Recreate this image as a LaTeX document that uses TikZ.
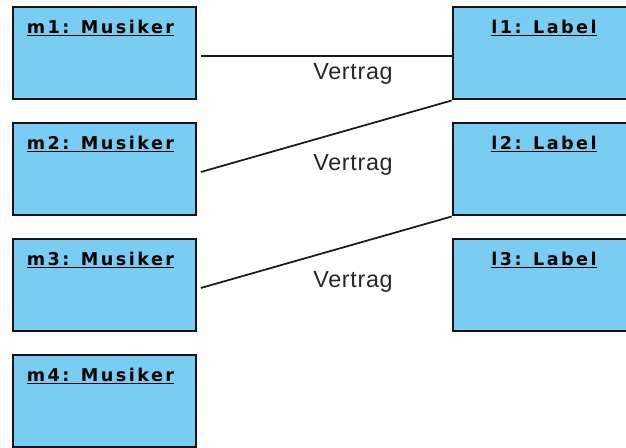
\documentclass[tikz,border=0pt]{standalone}
\usepackage{fontspec}
\setmainfont{Liberation Sans}
\newfontfamily\titlefont[LetterSpace=14]{DejaVu Sans Bold}
\newfontfamily\namefont[LetterSpace=3]{Liberation Sans}
\usetikzlibrary{positioning}

\definecolor{objblue}{RGB}{121,205,243}
\definecolor{objline}{RGB}{20,20,20}

\tikzset{every picture/.style={line width=0.75pt}}
\tikzset{
  objbox/.style={draw=objline, fill=objblue, line width=1.5pt, minimum width=137pt, minimum height=69pt, inner sep=0pt},
  objtitle/.style={inner sep=0pt, font=\titlefont\fontsize{13.2}{15}\selectfont},
  link/.style={draw=black!90, line width=1.3pt},
  linkname/.style={inner sep=0pt, anchor=base, font=\namefont\fontsize{17.5}{20}\selectfont, text=black!85}
}

\begin{document}
\begin{tikzpicture}[x=0.75pt,y=0.75pt,yscale=-1,xscale=1]
  \useasboundingbox (0,0) rectangle (626,448);

  %Shape: Rectangle (Musiker)
  \node[objbox] (m1) at (104.5,53.5) {};
  \node[objbox] (m2) at (104.5,169.5) {};
  \node[objbox] (m3) at (104.5,285.5) {};
  \node[objbox] (m4) at (104.5,401.5) {};

  %Shape: Rectangle (Label)
  \node[objbox] (l1) at (544,53.5) {};
  \node[objbox] (l2) at (544,169.5) {};
  \node[objbox] (l3) at (544,285.5) {};

  % Text Node
  \node[objtitle, below=9.5pt of m1.north, xshift=-3pt] (m1t) {\underline{m1: Musiker}};
  \node[objtitle, below=9.5pt of m2.north, xshift=-3pt] (m2t) {\underline{m2: Musiker}};
  \node[objtitle, below=9.5pt of m3.north, xshift=-3pt] (m3t) {\underline{m3: Musiker}};
  \node[objtitle, below=9.5pt of m4.north, xshift=-3pt] (m4t) {\underline{m4: Musiker}};
  \node[objtitle, below=9.5pt of l1.north] (l1t) {\underline{l1: Label}};
  \node[objtitle, below=9.5pt of l2.north] (l2t) {\underline{l2: Label}};
  \node[objtitle, below=9.5pt of l3.north] (l3t) {\underline{l3: Label}};

  %Straight Lines
  \draw[link] ([shift={(4,2.5)}]m1.east) -- ([shift={(0,2.5)}]l1.west) ;
  \draw[link] ([shift={(4,2.5)}]m2.east) -- (l1.south west) ;
  \draw[link] ([shift={(4,2.5)}]m3.east) -- (l2.south west) ;

  % Text Node
  \node[linkname] (v1) at (353,79.3) {Vertrag};
  \node[linkname] (v2) at (353,171) {Vertrag};
  \node[linkname] (v3) at (353,287.7) {Vertrag};
\end{tikzpicture}
\end{document}
